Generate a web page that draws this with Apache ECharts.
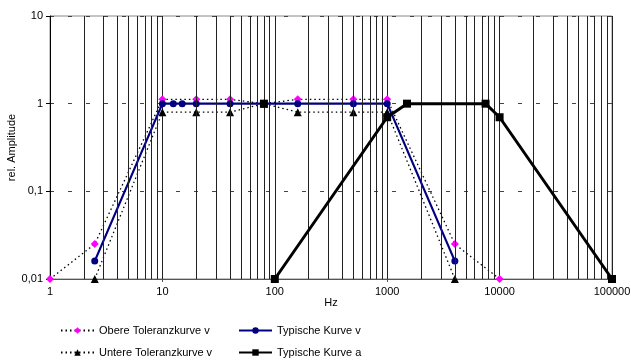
<!DOCTYPE html>
<html>
<head>
<meta charset="utf-8">
<script src="https://cdn.jsdelivr.net/npm/echarts@6/dist/echarts.min.js"></script>
<style>
  html, body { margin: 0; padding: 0; background: #fff; }
  #main { width: 631px; height: 360px; }
</style>
</head>
<body>
<div id="main"></div>
<script>
// frequencies (Hz) and relative amplitudes
const freqUpper = [1, 2.5, 10, 20, 40, 80, 160, 500, 1000, 4000, 10000];
const ampUpper  = [0.01, 0.025, 1.12, 1.12, 1.12, 1.0, 1.12, 1.12, 1.12, 0.025, 0.01];

const freqLower = [2.5, 10, 20, 40, 80, 160, 500, 1000, 4000];
const ampLower  = [0.01, 0.8, 0.8, 0.8, 1.0, 0.8, 0.8, 0.8, 0.01];

const freqTypV = [2.5, 10, 12.5, 15, 20, 40, 80, 160, 500, 1000, 4000];
const ampTypV  = [0.016, 1, 1, 1, 1, 1, 1, 1, 1, 1, 0.016];

// '-' marks the gap between the 80 Hz reference point and the curve
const freqTypA = [80, 90, 100, 1000, 1500, 7500, 10000, 100000];
const ampTypA  = [1, '-', 0.01, 0.7, 1, 1, 0.7, 0.01];

const yTickLabels = { 0.01: '0,01', 0.1: '0,1', 1: '1', 10: '10' };
const decades = [1, 10, 100, 1000, 10000];
const minorSteps = [2, 3, 4, 5, 6, 7, 8, 9];

const pairs = (xs, ys) => xs.map((x, i) => [x, ys[i]]);

const minorLines = [];
decades.forEach(d => minorSteps.forEach(m => minorLines.push({ xAxis: d * m })));

const chart = echarts.init(document.getElementById('main'));
const font = 'Liberation Sans, Arial, sans-serif';

// one legend per entry so the 2x2 layout is exact
function legendAt(name, left, top) {
  return {
    left: left, top: top, itemWidth: 33, itemHeight: 8, padding: 0,
    textStyle: { color: '#000', fontSize: 11, fontFamily: font },
    data: [name]
  };
}

const option = {
  animation: false,
  textStyle: { fontFamily: font },
  grid: {
    left: 50, right: 19, top: 16, bottom: 81,
    outerBoundsMode: 'none', containLabel: false,
    show: true, borderColor: '#888', borderWidth: 1
  },
  xAxis: {
    type: 'log', min: 1, max: 100000, logBase: 10,
    name: 'Hz', nameLocation: 'middle', nameGap: 18, nameMoveOverlap: false,
    nameTextStyle: { color: '#000', fontSize: 11, fontFamily: font },
    axisLine: { lineStyle: { color: '#555', width: 1 } },
    axisTick: { show: true, length: 3, lineStyle: { color: '#555' } },
    axisLabel: {
      color: '#000', fontSize: 11, margin: 7, fontFamily: font,
      formatter: v => String(Math.round(v))
    },
    splitLine: { show: true, lineStyle: { color: '#222', width: 1, type: 'solid' } },
    minorTick: { show: false },
    minorSplitLine: { show: false }
  },
  yAxis: {
    type: 'log', min: 0.01, max: 10, logBase: 10,
    name: 'rel. Amplitude', nameLocation: 'middle', nameGap: 33, nameRotate: 90,
    nameMoveOverlap: false,
    nameTextStyle: { color: '#000', fontSize: 11, fontFamily: font },
    axisLine: { show: true, lineStyle: { color: '#000', width: 1 } },
    axisTick: { show: true, length: 4, lineStyle: { color: '#000' } },
    axisLabel: {
      color: '#000', fontSize: 11, margin: 7, fontFamily: font,
      formatter: v => yTickLabels[+v.toPrecision(3)] || ''
    },
    splitLine: {
      show: true,
      interval: (i, v) => v > 0.05 && v < 5,
      lineStyle: { color: '#444', width: 1, type: [4, 14] }
    }
  },
  legend: [
    legendAt('Obere Toleranzkurve v', 60, 325),
    legendAt('Untere Toleranzkurve v', 60, 347),
    legendAt('Typische Kurve v', 238, 325),
    legendAt('Typische Kurve a', 238, 347)
  ],
  series: [
    {
      name: 'grid-minor', type: 'line', data: [], silent: true, z: 1,
      markLine: {
        silent: true, symbol: ['none', 'none'], label: { show: false },
        lineStyle: { color: '#222', width: 1, type: 'solid' },
        data: minorLines
      }
    },
    {
      name: 'Obere Toleranzkurve v', type: 'line', z: 3,
      data: pairs(freqUpper, ampUpper),
      symbol: 'diamond', symbolSize: 8, showAllSymbol: true,
      itemStyle: { color: '#ff00ff' },
      lineStyle: { color: '#000', width: 1.3, type: [1.5, 3] }
    },
    {
      name: 'Untere Toleranzkurve v', type: 'line', z: 3,
      data: pairs(freqLower, ampLower),
      symbol: 'triangle', symbolSize: 8, showAllSymbol: true,
      itemStyle: { color: '#000' },
      lineStyle: { color: '#000', width: 1.3, type: [1.5, 3] }
    },
    {
      name: 'Typische Kurve v', type: 'line', z: 4,
      data: pairs(freqTypV, ampTypV),
      symbol: 'circle', symbolSize: 7, showAllSymbol: true,
      itemStyle: { color: '#000080' },
      lineStyle: { color: '#000080', width: 2.2 }
    },
    {
      name: 'Typische Kurve a', type: 'line', z: 5,
      data: pairs(freqTypA, ampTypA),
      connectNulls: false,
      symbol: 'rect', symbolSize: 8, showAllSymbol: true,
      itemStyle: { color: '#000' },
      lineStyle: { color: '#000', width: 3 }
    }
  ]
};

chart.setOption(option);
</script>
</body>
</html>
